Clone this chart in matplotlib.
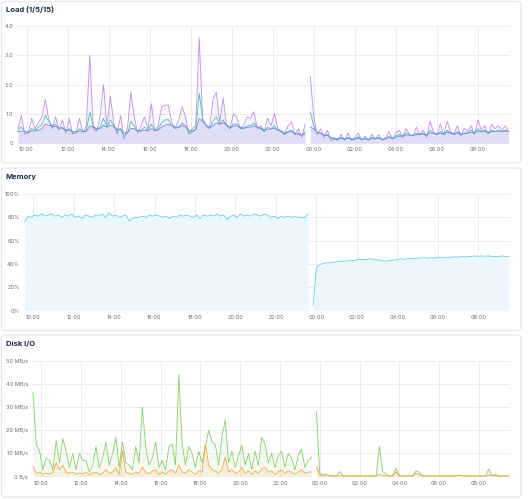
import matplotlib
matplotlib.use("Agg")
import matplotlib.pyplot as plt
import matplotlib.dates as mdates
import pandas as pd
from matplotlib.patches import FancyBboxPatch

plt.rcParams['font.family'] = ['Inter', 'DejaVu Sans']

# ---- data: two segments (gap in the samples around 23:40) ----
day_start, day_n = '2024-01-01 09:35', 85
night_start, night_n = '2024-01-01 23:50', 59
view = ('2024-01-01 09:33', '2024-01-02 09:33')

load1_day = [0.5, 0.95, 0.3, 0.35, 0.85, 0.5, 0.7, 0.9, 1.5, 0.8,
             0.5, 0.9, 0.45, 0.8, 0.35, 0.85, 0.3, 0.4, 0.85, 0.35,
             0.6, 3.0, 0.5, 0.4, 0.9, 2.0, 0.6, 1.6, 0.7, 0.3,
             0.95, 0.15, 0.5, 1.75, 0.9, 0.35, 0.6, 0.9, 0.5, 1.35,
             0.4, 0.6, 1.25, 1.3, 1.3, 0.7, 0.5, 0.8, 1.25, 0.9,
             0.3, 0.5, 0.6, 3.6, 0.8, 0.6, 0.5, 1.5, 1.75, 0.7,
             1.55, 0.6, 0.5, 1.0, 0.9, 0.5, 0.6, 0.9, 0.85, 1.08,
             0.5, 0.6, 0.4, 0.85, 0.6, 1.02, 0.5, 0.4, 0.3, 0.6,
             0.73, 0.3, 0.5, 0.2, 0.67]
load1_night = [2.27, 0.9, 0.3, 0.5, 0.2, 0.45, 0.1, 0.15, 0.1, 0.3,
               0.1, 0.35, 0.1, 0.2, 0.35, 0.1, 0.25, 0.1, 0.3, 0.15,
               0.3, 0.1, 0.2, 0.4, 0.15, 0.35, 0.45, 0.2, 0.5, 0.3,
               0.25, 0.55, 0.3, 0.45, 0.2, 0.75, 0.4, 0.3, 0.65, 0.3,
               0.75, 0.4, 0.3, 0.6, 0.25, 0.5, 0.4, 0.6, 0.3, 0.8,
               0.45, 0.6, 0.3, 0.65, 0.5, 0.6, 0.45, 0.6, 0.4]
load5_day = [0.45, 0.55, 0.4, 0.35, 0.5, 0.45, 0.55, 0.65, 0.95, 0.75,
             0.6, 0.65, 0.5, 0.55, 0.4, 0.5, 0.35, 0.35, 0.5, 0.4,
             0.45, 1.05, 0.6, 0.45, 0.55, 0.85, 0.55, 0.8, 0.6, 0.4,
             0.5, 0.25, 0.35, 0.75, 0.6, 0.4, 0.45, 0.55, 0.45, 0.65,
             0.45, 0.5, 0.7, 0.8, 0.8, 0.6, 0.5, 0.55, 0.7, 0.6,
             0.35, 0.4, 0.5, 1.7, 0.85, 0.6, 0.5, 0.75, 0.9, 0.65,
             0.8, 0.6, 0.5, 0.65, 0.65, 0.5, 0.5, 0.6, 0.6, 0.7,
             0.55, 0.5, 0.4, 0.55, 0.5, 0.6, 0.45, 0.4, 0.3, 0.4,
             0.45, 0.3, 0.35, 0.25, 0.4]
load5_night = [1.05, 0.6, 0.35, 0.35, 0.25, 0.3, 0.15, 0.15, 0.12, 0.2,
               0.12, 0.2, 0.12, 0.15, 0.22, 0.12, 0.18, 0.12, 0.2, 0.15,
               0.2, 0.12, 0.15, 0.25, 0.15, 0.25, 0.3, 0.25, 0.35, 0.3,
               0.25, 0.35, 0.3, 0.35, 0.25, 0.45, 0.35, 0.3, 0.4, 0.3,
               0.45, 0.35, 0.3, 0.4, 0.3, 0.35, 0.35, 0.45, 0.35, 0.5,
               0.4, 0.45, 0.35, 0.45, 0.4, 0.45, 0.4, 0.45, 0.4]
load15_day = [0.4, 0.42, 0.4, 0.38, 0.42, 0.42, 0.45, 0.5, 0.65, 0.62,
              0.58, 0.58, 0.52, 0.52, 0.45, 0.45, 0.4, 0.38, 0.42, 0.4,
              0.4, 0.6, 0.55, 0.5, 0.5, 0.62, 0.55, 0.62, 0.58, 0.48,
              0.48, 0.35, 0.35, 0.5, 0.5, 0.42, 0.42, 0.45, 0.42, 0.5,
              0.45, 0.45, 0.55, 0.62, 0.65, 0.6, 0.55, 0.55, 0.6, 0.58,
              0.45, 0.42, 0.45, 0.85, 0.75, 0.62, 0.55, 0.6, 0.7, 0.65,
              0.7, 0.62, 0.55, 0.58, 0.6, 0.55, 0.52, 0.55, 0.55, 0.6,
              0.55, 0.52, 0.45, 0.48, 0.48, 0.52, 0.45, 0.42, 0.35, 0.38,
              0.4, 0.32, 0.32, 0.28, 0.32]
load15_night = [0.55, 0.5, 0.38, 0.35, 0.28, 0.28, 0.2, 0.18, 0.15, 0.18,
                0.15, 0.17, 0.14, 0.14, 0.18, 0.14, 0.15, 0.13, 0.16, 0.15,
                0.17, 0.14, 0.15, 0.2, 0.17, 0.2, 0.25, 0.24, 0.28, 0.28,
                0.26, 0.3, 0.3, 0.32, 0.28, 0.36, 0.34, 0.3, 0.34, 0.3,
                0.38, 0.35, 0.32, 0.35, 0.3, 0.33, 0.34, 0.38, 0.34, 0.42,
                0.4, 0.42, 0.36, 0.4, 0.4, 0.42, 0.4, 0.42, 0.4]

mem_day = [76, 81, 80, 82, 81, 83, 81, 82, 83, 81,
           82, 80, 82, 81, 83, 80, 81, 79, 82, 81,
           80, 82, 81, 83, 80, 84, 81, 82, 80, 81,
           82, 77, 79, 80, 80, 81, 80, 82, 81, 82,
           81, 80, 81, 79, 81, 80, 82, 81, 82, 81,
           80, 82, 79, 82, 81, 82, 81, 83, 81, 82,
           78, 81, 82, 80, 83, 81, 82, 81, 83, 82,
           81, 83, 82, 80, 81, 79, 81, 80, 81, 80,
           81, 80, 80, 80, 83]
mem_night = [5, 37, 39.5, 40.5, 41, 41, 41.5, 42, 42, 42.5,
             42.5, 43, 43, 43.5, 44, 43.5, 44, 44.5, 44, 43.5,
             43, 42.5, 42.5, 43, 43.5, 44, 44.5, 44, 44.5, 45,
             44.5, 45, 45, 45.5, 45, 45.5, 45, 45.5, 45.5, 46,
             45.5, 46, 46, 46, 46.5, 46, 46.5, 46.5, 47, 46.5,
             47, 46.5, 47, 46.5, 46.5, 46.5, 47, 46.5, 46.5]

read_day = [36.5, 14, 11, 3, 8, 7, 3, 15.5, 6, 16.5,
            11, 4, 10, 3, 10, 7, 7, 2, 5, 13,
            4, 8, 15, 5, 10, 17, 4, 15, 6, 5,
            3, 13, 6, 30, 13, 5, 8, 15, 4, 7,
            3, 13, 14, 5, 44, 14, 5, 13, 10, 4,
            11, 6, 13, 20, 15, 14, 5, 17, 24.5, 6,
            11, 4, 9, 13.6, 5, 10, 3, 11, 5, 17,
            14, 6, 10, 4, 9, 11, 4, 10, 8, 3,
            9, 12, 4, 7, 8.3]
read_night = [28, 1.5, 0.8, 1.2, 0.5, 0.4, 0.4, 2.2, 0.4, 0.3,
              0.3, 0.3, 0.3, 0.3, 0.3, 0.3, 0.3, 0.3, 0.3, 13,
              2.2, 1.2, 0.4, 0.4, 3.6, 0.5, 0.3, 0.3, 0.3, 0.3,
              2.5, 2, 0.3, 0.3, 0.3, 0.3, 0.3, 0.3, 0.3, 0.3,
              0.3, 0.3, 0.3, 0.6, 0.3, 0.3, 0.3, 0.3, 0.3, 0.3,
              0.3, 0.3, 3.3, 0.4, 1.0, 0.3, 0.3, 0.3, 0.3]
write_day = [4.5, 1.5, 2, 1, 1.5, 1.2, 2, 6, 3, 5,
             2, 1.5, 2, 1, 1.5, 1.2, 2, 0.8, 1.5, 2,
             1, 1.5, 3, 1.5, 2, 4, 1, 11, 2, 1.5,
             1, 2, 1.5, 4, 2, 1.2, 2.5, 3, 1, 2,
             1, 2.5, 3, 1.5, 5, 2, 1.5, 3, 2, 1,
             2.5, 2, 14, 5, 3, 2.5, 1.5, 3, 8.5, 2,
             3, 1.5, 2, 4, 1.5, 2.5, 1, 2.5, 1.5, 3.5,
             4, 2, 2.5, 1, 2, 3, 1.5, 2.5, 2, 1,
             2, 3, 1.5, 2, 2]
write_night = [4.3, 0.6, 0.4, 0.4, 0.3, 0.3, 0.3, 0.5, 0.3, 0.3,
               0.3, 0.3, 0.3, 0.3, 0.3, 0.3, 0.3, 0.3, 0.3, 1.0,
               0.5, 0.4, 0.3, 0.3, 2.0, 0.4, 0.3, 0.3, 0.3, 0.3,
               1.5, 1.0, 0.3, 0.3, 0.3, 0.3, 0.3, 0.3, 0.3, 0.3,
               0.3, 0.3, 0.3, 0.6, 0.4, 0.3, 0.3, 0.3, 0.3, 0.3,
               0.3, 0.3, 0.8, 0.4, 0.5, 0.3, 0.3, 0.3, 0.3]

load_ticks = [0, 1, 2, 3, 4]
load_labels = ['0', '1.0', '2.0', '3.0', '4.0']
mem_ticks = [0, 20, 40, 60, 80, 100]
mem_labels = ['0%', '20%', '40%', '60%', '80%', '100%']
disk_ticks = [0, 10, 20, 30, 40, 50]
disk_labels = ['0 B/s', '10 MB/s', '20 MB/s', '30 MB/s', '40 MB/s', '50 MB/s']

day_t = pd.date_range(day_start, periods=day_n, freq='10min')
night_t = pd.date_range(night_start, periods=night_n, freq='10min')

W, H = 528, 499
fig = plt.figure(figsize=(W / 100, H / 100), dpi=100)
fig.patch.set_facecolor('white')


def px_axes(left, top, right, bottom):
    ax = fig.add_axes([left / W, 1 - bottom / H, (right - left) / W, (bottom - top) / H])
    ax.set_zorder(5)
    return ax


def card(top, bottom, title, title_y):
    box = FancyBboxPatch((1.5 / W, 1 - bottom / H), (521 - 1.5) / W, (bottom - top) / H,
                         boxstyle='round,pad=0,rounding_size=0.006', transform=fig.transFigure,
                         facecolor='white', edgecolor='#e2e5ea', lw=0.8, zorder=-10)
    fig.patches.append(box)
    fig.text(6 / W, 1 - title_y / H, title, fontsize=5.5, fontweight='bold',
             color='#1e2b4a', va='baseline', ha='left')


def style(ax, ticks, labels, top):
    ax.set_xlim(pd.Timestamp(view[0]), pd.Timestamp(view[1]))
    ax.set_ylim(ticks[0], top)
    ax.set_yticks(ticks)
    ax.set_yticklabels(labels)
    ax.xaxis.set_major_locator(mdates.HourLocator(byhour=range(0, 24, 2)))
    ax.xaxis.set_major_formatter(mdates.DateFormatter('%H:%M'))
    ax.tick_params(length=0, labelsize=4, colors='#6b6f76', pad=3)
    ax.grid(True, color='#ececec', lw=0.7)
    ax.set_axisbelow(True)
    for s in ax.spines.values():
        s.set_visible(False)
    ax.set_facecolor('none')


card(1.5, 163, 'Load (1/5/15)', 12)
card(168, 330.5, 'Memory', 179)
card(335, 497, 'Disk I/O', 346)

# Load
ax1 = px_axes(17.3, 26, 509.7, 143.3)
for t, a, b, c in [(day_t, load1_day, load5_day, load15_day),
                   (night_t, load1_night, load5_night, load15_night)]:
    ax1.fill_between(t, c, color='#e3e5f8', lw=0)
    ax1.fill_between(t, a, color='#c9a6f2', alpha=0.10, lw=0)
    ax1.plot(t, a, color='#c28cf0', lw=0.6)
    ax1.plot(t, b, color='#3cc3b2', lw=0.6)
    ax1.plot(t, c, color='#7480dc', lw=0.6)
style(ax1, load_ticks, load_labels, 4)

# Memory
ax2 = px_axes(24, 194, 509.7, 310.7)
for t, m in [(day_t, mem_day), (night_t, mem_night)]:
    ax2.fill_between(t, m, color='#ecf7fd', lw=0)
    ax2.plot(t, m, color='#62d0ec', lw=0.6)
style(ax2, mem_ticks, mem_labels, 100)

# Disk I/O
ax3 = px_axes(32.3, 360.7, 509.7, 476.7)
for t, r, w in [(day_t, read_day, write_day), (night_t, read_night, write_night)]:
    ax3.fill_between(t, r, color='#86d067', alpha=0.08, lw=0)
    ax3.fill_between(t, w, color='#f5a742', alpha=0.12, lw=0)
    ax3.plot(t, r, color='#86d067', lw=0.6)
    ax3.plot(t, w, color='#f5a742', lw=0.6)
style(ax3, disk_ticks, disk_labels, 50)

fig.savefig('out.png', dpi=100, facecolor='white')
